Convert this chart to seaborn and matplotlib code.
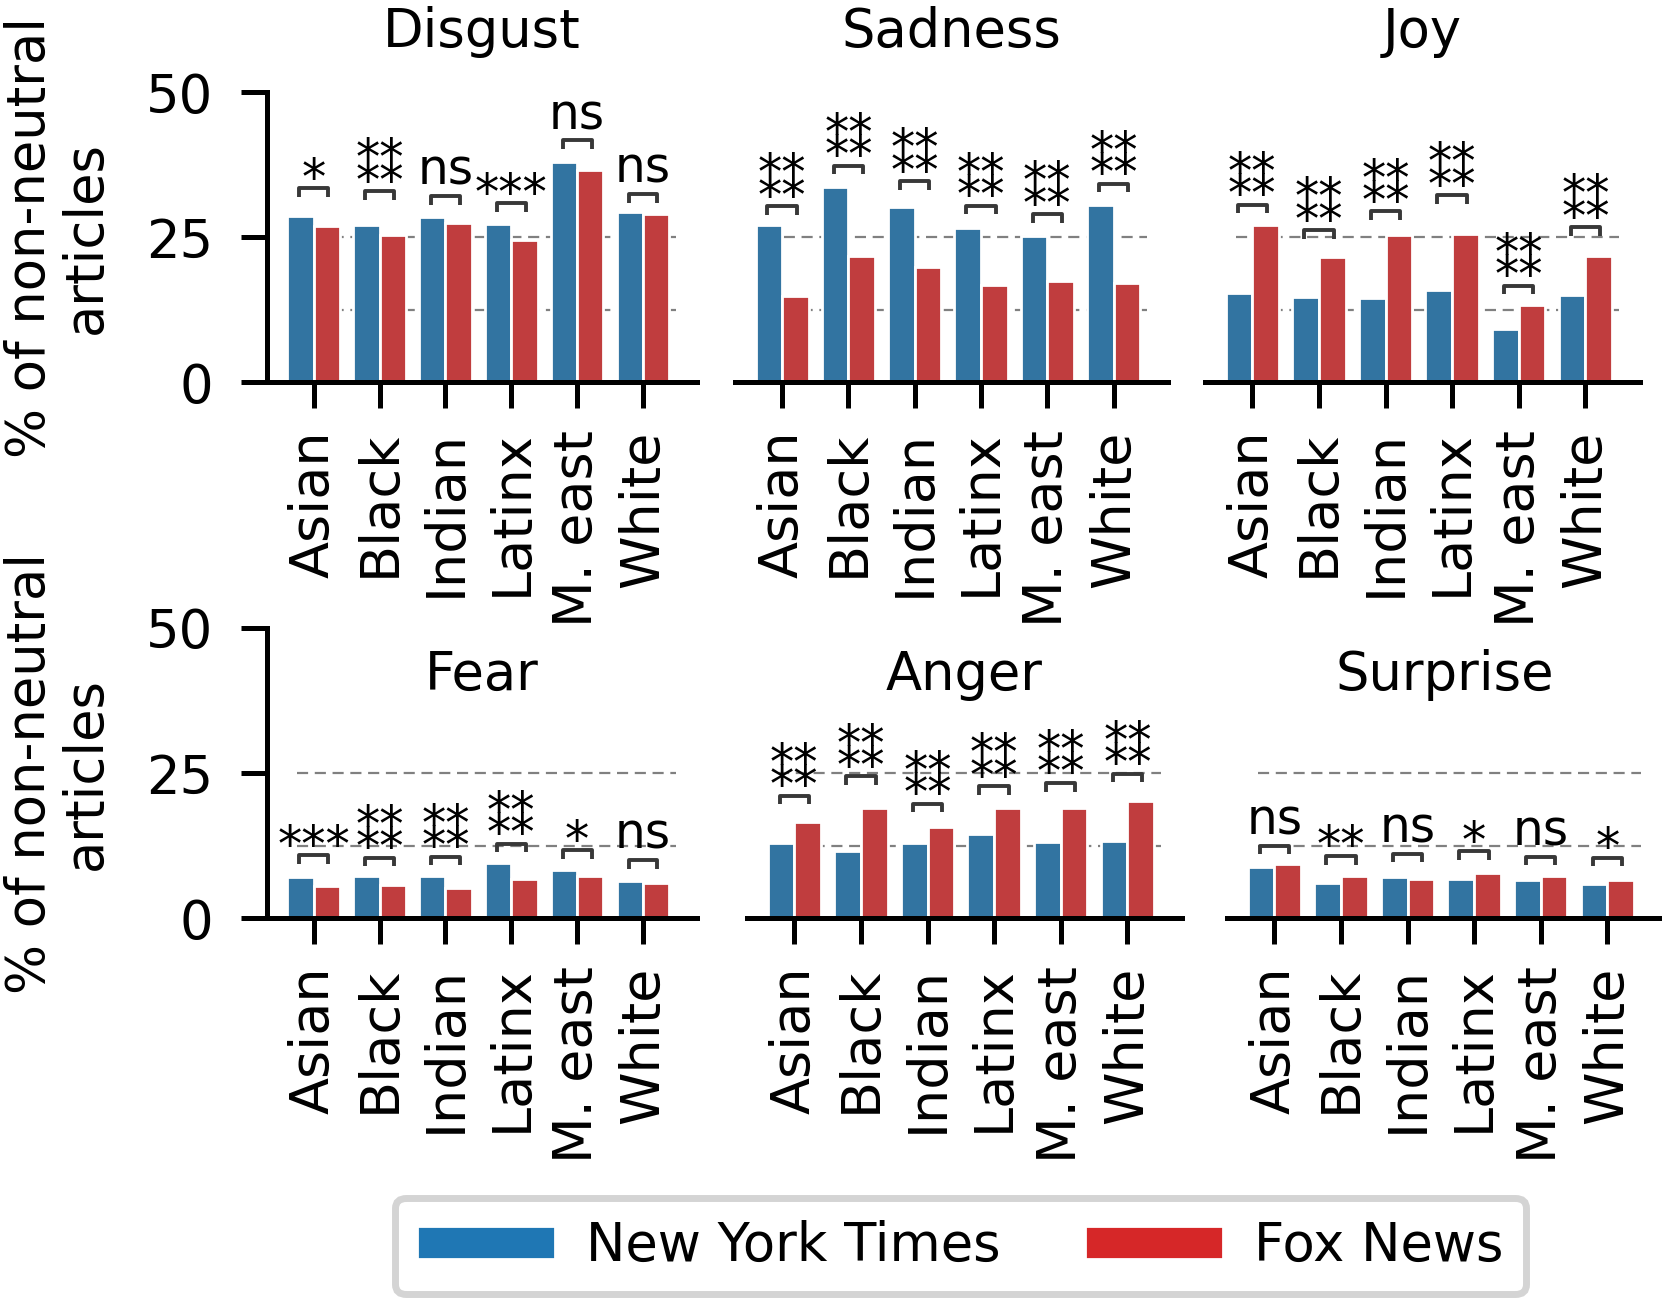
import matplotlib
matplotlib.use("Agg")
import matplotlib.pyplot as plt
from matplotlib.patches import Patch
import pandas as pd
import seaborn as sns

# Data (% of non-neutral articles)
groups = ["Asian", "Black", "Indian", "Latinx", "M. east", "White"]
emotions = ["Disgust", "Sadness", "Joy", "Fear", "Anger", "Surprise"]

disgust_nyt = [28.7, 27.0, 28.4, 27.3, 38.0, 29.3]
disgust_fox = [26.9, 25.3, 27.4, 24.4, 36.6, 28.9]
disgust_sig = ["*", "****", "ns", "***", "ns", "ns"]
disgust_brk = [33.4, 32.9, 32.1, 30.8, 41.7, 32.4]

sadness_nyt = [27.0, 33.7, 30.2, 26.6, 25.2, 30.5]
sadness_fox = [14.9, 21.7, 19.8, 16.7, 17.4, 17.0]
sadness_sig = ["****", "****", "****", "****", "****", "****"]
sadness_brk = [30.3, 37.3, 34.6, 30.4, 28.9, 34.2]

joy_nyt = [15.4, 14.6, 14.5, 15.9, 9.2, 15.0]
joy_fox = [27.1, 21.5, 25.4, 25.5, 13.2, 21.7]
joy_sig = ["****", "****", "****", "****", "****", "****"]
joy_brk = [30.6, 26.2, 29.4, 32.2, 16.6, 26.7]

fear_nyt = [7.1, 7.3, 7.2, 9.4, 8.2, 6.4]
fear_fox = [5.6, 5.7, 5.2, 6.8, 7.2, 6.0]
fear_sig = ["***", "****", "****", "****", "*", "ns"]
fear_brk = [10.8, 10.4, 10.6, 12.8, 11.7, 10.0]

anger_nyt = [13.0, 11.6, 13.0, 14.4, 13.1, 13.2]
anger_fox = [16.5, 18.9, 15.7, 19.0, 18.9, 20.1]
anger_sig = ["****", "****", "****", "****", "****", "****"]
anger_brk = [21.1, 24.4, 19.7, 22.7, 23.3, 24.9]

surprise_nyt = [8.8, 6.1, 7.1, 6.8, 6.6, 5.9]
surprise_fox = [9.3, 7.2, 6.8, 7.8, 7.2, 6.6]
surprise_sig = ["ns", "**", "ns", "*", "ns", "*"]
surprise_brk = [12.5, 10.7, 11.1, 11.5, 10.6, 10.4]

outlets = ["New York Times", "Fox News"]
colors = ["#1f77b4", "#d62728"]

panels = [
    (disgust_nyt, disgust_fox, disgust_sig, disgust_brk),
    (sadness_nyt, sadness_fox, sadness_sig, sadness_brk),
    (joy_nyt, joy_fox, joy_sig, joy_brk),
    (fear_nyt, fear_fox, fear_sig, fear_brk),
    (anger_nyt, anger_fox, anger_sig, anger_brk),
    (surprise_nyt, surprise_fox, surprise_sig, surprise_brk),
]

sns.set_theme(style="ticks")
plt.rcParams["font.family"] = ["DejaVu Sans"]
plt.rcParams["axes.linewidth"] = 1.8
for key in ["text.color", "axes.labelcolor", "xtick.color", "ytick.color", "axes.edgecolor"]:
    plt.rcParams[key] = "black"

W, H = 1662, 1298
fig = plt.figure(figsize=(W / 200, H / 200), dpi=200)

# axes boxes in pixels (left, top, right, bottom)
boxes = [
    (267, 92, 697, 382), (735, 92, 1168, 382), (1205, 92, 1640, 382),
    (267, 628, 697, 918), (747, 628, 1182, 918), (1227, 628, 1662, 918),
]

for k, (emo, (nyt, fox, sig, brk), box) in enumerate(zip(emotions, panels, boxes)):
    x0, y0, x1, y1 = box
    ax = fig.add_axes([x0 / W, 1 - y1 / H, (x1 - x0) / W, (y1 - y0) / H])

    df = pd.DataFrame({
        "group": groups * 2,
        "outlet": [outlets[0]] * len(groups) + [outlets[1]] * len(groups),
        "value": nyt + fox,
    })

    ax.hlines([12.5, 25], -0.25, 5.5, colors="gray", linestyles=(0, (5, 3)),
              linewidth=0.8, zorder=0)
    sns.barplot(data=df, x="group", y="value", hue="outlet", palette=colors,
                width=0.8, ax=ax, legend=False, zorder=2)

    # significance brackets
    for i, (s, yb) in enumerate(zip(sig, brk)):
        xa, xb = i - 0.22, i + 0.22
        ax.plot([xa, xa, xb, xb], [yb - 1.5, yb, yb, yb - 1.5], color="0.22",
                lw=1.4, solid_capstyle="butt", zorder=3, clip_on=False)
        if s == "ns":
            ax.annotate(s, (i, yb), xytext=(0, 4), textcoords="offset points",
                        ha="center", va="baseline", fontsize=17.5)
        elif s == "****":
            for off in (-2, 6.1):
                ax.annotate("**", (i, yb), xytext=(0, off), textcoords="offset points",
                            ha="center", va="baseline", fontsize=17.5)
        else:
            ax.annotate(s, (i, yb), xytext=(0, -2), textcoords="offset points",
                        ha="center", va="baseline", fontsize=17.5)

    ax.set_ylim(0, 50)
    ax.set_xlim(-0.71, 5.82)
    ax.set_yticks([0, 25, 50])
    ax.set_xlabel("")
    ax.set_ylabel("")
    ax.tick_params(axis="both", length=9.4, width=1.8, pad=10, labelsize=19)
    ax.tick_params(axis="x", labelrotation=90, labelsize=19.5, pad=8)

    if k % 3 == 0:
        sns.despine(ax=ax)
        ax.set_ylabel("% of non-neutral\narticles", fontsize=19, linespacing=1.1)
        ax.yaxis.set_label_coords(-0.36, 0.5)
    else:
        sns.despine(ax=ax, left=True)
        ax.tick_params(axis="y", left=False, labelleft=False)

    if k < 3:
        ax.set_title(emo, fontsize=19, y=1.155, pad=0)
    else:
        ax.set_title(emo, fontsize=19, y=0.786, pad=0)

handles = [Patch(facecolor=c, label=o) for c, o in zip(colors, outlets)]
leg = fig.legend(handles=handles, loc="lower center", bbox_to_anchor=(0.578, 0.003),
                 ncol=2, fontsize=19, frameon=True, fancybox=True,
                 handlelength=2.6, handleheight=0.6, handletextpad=0.6,
                 columnspacing=1.6, borderpad=0.42, borderaxespad=0)
leg.get_frame().set_edgecolor("0.83")
leg.get_frame().set_linewidth(2.5)
leg.get_frame().set_alpha(1)

fig.savefig("out.png", dpi=200)
